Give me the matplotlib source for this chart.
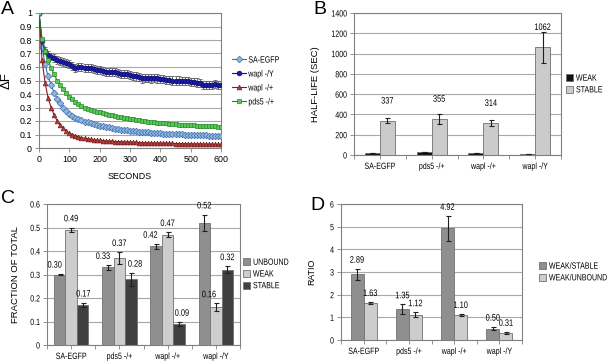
import matplotlib
matplotlib.use("Agg")
import matplotlib.pyplot as plt
import matplotlib.patheffects as pe
from matplotlib.transforms import Affine2D
import numpy as np

plt.rcParams['font.family'] = ['Liberation Sans', 'DejaVu Sans']
plt.rcParams['font.size'] = 6.4

# panel A: recovery curves, one point every 10 s
seconds = list(range(0, 610, 10))
sa_egfp = [1.00, 0.75, 0.62, 0.53, 0.465, 0.41, 0.365, 0.33, 0.30, 0.275, 0.255,
           0.24, 0.225, 0.215, 0.205, 0.195, 0.19, 0.182, 0.176, 0.17, 0.165,
           0.16, 0.156, 0.152, 0.148, 0.144, 0.14, 0.137, 0.134, 0.131, 0.128,
           0.126, 0.124, 0.122, 0.12, 0.118, 0.116, 0.114, 0.112, 0.11, 0.108,
           0.107, 0.106, 0.105, 0.104, 0.103, 0.102, 0.101, 0.10, 0.099, 0.098,
           0.097, 0.096, 0.095, 0.094, 0.093, 0.092, 0.092, 0.091, 0.09, 0.09]
wapl_y = [1.00, 0.79, 0.72, 0.69, 0.675, 0.665, 0.655, 0.645, 0.64, 0.63, 0.62,
          0.61, 0.595, 0.60, 0.60, 0.595, 0.59, 0.59, 0.585, 0.58, 0.575,
          0.57, 0.565, 0.565, 0.56, 0.56, 0.555, 0.55, 0.55, 0.545, 0.54,
          0.535, 0.53, 0.525, 0.515, 0.52, 0.52, 0.515, 0.52, 0.515, 0.51,
          0.51, 0.505, 0.505, 0.50, 0.50, 0.50, 0.495, 0.495, 0.495, 0.49,
          0.49, 0.485, 0.48, 0.47, 0.465, 0.47, 0.47, 0.475, 0.47, 0.47]
wapl_y_err = [0.0, 0.02, 0.025, 0.025, 0.025, 0.03, 0.03, 0.03, 0.03, 0.03, 0.03,
              0.03, 0.03, 0.03, 0.03, 0.03, 0.03, 0.03, 0.03, 0.03, 0.03,
              0.03, 0.03, 0.03, 0.03, 0.03, 0.03, 0.03, 0.03, 0.03, 0.03,
              0.03, 0.03, 0.03, 0.03, 0.03, 0.03, 0.03, 0.03, 0.03, 0.03,
              0.03, 0.03, 0.03, 0.03, 0.03, 0.03, 0.03, 0.03, 0.03, 0.03,
              0.03, 0.03, 0.03, 0.03, 0.03, 0.03, 0.03, 0.03, 0.03, 0.03]
wapl_het = [1.00, 0.65, 0.485, 0.37, 0.30, 0.245, 0.20, 0.17, 0.145, 0.125, 0.11,
            0.10, 0.09, 0.083, 0.077, 0.072, 0.068, 0.064, 0.061, 0.058, 0.056,
            0.054, 0.052, 0.05, 0.049, 0.048, 0.047, 0.046, 0.045, 0.044, 0.043,
            0.042, 0.041, 0.04, 0.04, 0.039, 0.038, 0.038, 0.037, 0.036, 0.036,
            0.035, 0.035, 0.034, 0.034, 0.033, 0.033, 0.032, 0.032, 0.031, 0.031,
            0.03, 0.03, 0.03, 0.029, 0.029, 0.028, 0.028, 0.027, 0.027, 0.026]
pds5_het = [1.00, 0.81, 0.72, 0.65, 0.595, 0.545, 0.50, 0.465, 0.435, 0.405, 0.38,
            0.36, 0.34, 0.325, 0.31, 0.30, 0.29, 0.283, 0.276, 0.27, 0.265,
            0.258, 0.252, 0.247, 0.242, 0.237, 0.232, 0.228, 0.224, 0.22, 0.216,
            0.212, 0.208, 0.205, 0.202, 0.199, 0.196, 0.193, 0.19, 0.188, 0.186,
            0.184, 0.182, 0.18, 0.178, 0.176, 0.174, 0.172, 0.17, 0.169, 0.168,
            0.167, 0.166, 0.165, 0.164, 0.163, 0.162, 0.161, 0.16, 0.158, 0.156]

# panels B-D
lines = ["SA-EGFP", "pds5 -/+", "wapl -/+", "wapl -/Y"]
halflife_weak = [20, 28, 18, 8]
halflife_weak_err = [3, 3, 3, 2]
halflife_stable = [337, 355, 314, 1062]
halflife_stable_err = [25, 45, 30, 155]

frac_unbound = [0.30, 0.33, 0.42, 0.52]
frac_unbound_err = [0.003, 0.01, 0.01, 0.035]
frac_weak = [0.49, 0.37, 0.47, 0.16]
frac_weak_err = [0.01, 0.025, 0.01, 0.017]
frac_stable = [0.17, 0.28, 0.09, 0.32]
frac_stable_err = [0.01, 0.027, 0.008, 0.015]

ratio_weak_stable = [2.89, 1.35, 4.92, 0.50]
ratio_weak_stable_err = [0.25, 0.22, 0.55, 0.08]
ratio_weak_unbound = [1.63, 1.12, 1.10, 0.31]
ratio_weak_unbound_err = [0.04, 0.1, 0.04, 0.04]

W, H = 608, 363
fig = plt.figure(figsize=(W / 100, H / 100), dpi=100)


class Squeeze(pe.AbstractPathEffect):
    """Draw text narrower (the small text in the figure looks condensed)."""

    def __init__(self, sx=0.78, anchor="center"):
        super().__init__()
        self.sx = sx
        self.anchor = anchor

    def draw_path(self, renderer, gc, tpath, affine, rgbFace=None):
        ext = tpath.get_extents(affine)
        cx = {"left": ext.x0, "right": ext.x1}.get(self.anchor, (ext.x0 + ext.x1) / 2)
        t = affine + Affine2D().translate(-cx, 0).scale(self.sx, 1).translate(cx, 0)
        renderer.draw_path(gc, tpath, t, rgbFace)


def squeeze(texts, anchor, sx=0.78):
    for t in texts:
        t.set_path_effects([Squeeze(sx, anchor)])


def px_axes(left, top, right, bottom):
    return fig.add_axes([left / W, 1 - bottom / H, (right - left) / W, (bottom - top) / H])


def style_axes(ax):
    for s in ax.spines.values():
        s.set_color("#808080")
        s.set_linewidth(0.8)
    ax.yaxis.grid(True, color="#a8a8a8", linewidth=0.8)
    ax.set_axisbelow(True)
    ax.tick_params(length=3, width=0.6, color="#808080", pad=2)


def bar_panel(ax, series, ymax, ystep, fmt, label_off, above_err=True, nudges=None):
    n = len(series)
    width = 0.29 if n == 2 else 0.24
    x = np.arange(len(lines))
    for i, (vals, errs, color, name, show) in enumerate(series):
        pos = x + (i - (n - 1) / 2) * width
        ax.bar(pos, vals, width, color=color, edgecolor="#707070", linewidth=0.6,
               label=name, zorder=2)
        ax.errorbar(pos, vals, yerr=errs, fmt="none", ecolor="#202020",
                    elinewidth=0.8, capsize=1.8, capthick=0.8, zorder=3)
        if show:
            dx = nudges[i] if nudges else [0] * len(vals)
            for p, v, e, d in zip(pos, vals, errs, dx):
                top = v + e if above_err else v
                lab = ax.annotate(fmt.format(v), (p, top), xytext=(d, label_off),
                                  textcoords="offset points", ha="center",
                                  va="bottom", fontsize=6.8)
                squeeze([lab], "center")
    ax.set_xlim(-0.5, len(lines) - 0.5)
    ax.set_ylim(0, ymax)
    ax.set_yticks(np.arange(0, ymax + ystep / 2, ystep))
    ax.set_xticks(x)
    ax.set_xticklabels(lines)
    ax.set_xticks(np.arange(-0.5, len(lines)), minor=True)
    ax.tick_params(axis="x", which="major", length=0, pad=4)
    ax.tick_params(axis="x", which="minor", length=3, color="#808080")
    style_axes(ax)
    ax.tick_params(labelsize=6.5)


def panel_legend(ax, anchor_px, **kw):
    opts = dict(loc="center left", bbox_to_anchor=(anchor_px[0] / W, 1 - anchor_px[1] / H),
                bbox_transform=fig.transFigure, frameon=False, fontsize=6.5,
                handlelength=0.8, handleheight=0.8, handletextpad=0.3,
                labelspacing=0.3, borderaxespad=0, borderpad=0)
    opts.update(kw)
    leg = ax.legend(**opts)
    squeeze(leg.get_texts(), "left")
    return leg


# ---- A ----
axA = px_axes(39, 13, 221, 148)
style_axes(axA)
curves = [
    (sa_egfp, None, "SA-EGFP", "D", "#8fb4e0", "#3c6fb0", "#3c6fb0"),
    (wapl_y, wapl_y_err, "wapl -/Y", "o", "#1c1ca8", "#0a0a70", "#101080"),
    (wapl_het, None, "wapl -/+", "^", "#b04040", "#7a1a1a", "#802020"),
    (pds5_het, None, "pds5 -/+", "s", "#58c858", "#2a8a2a", "#208020"),
]
for ys, err, name, mk, fc, ec, lc in curves:
    if err is not None:
        axA.errorbar(seconds, ys, yerr=err, fmt="none", ecolor="#606060",
                     elinewidth=0.6, capsize=1.5, capthick=0.6, zorder=2)
    axA.plot(seconds, ys, color=lc, linewidth=0.8, marker=mk, markersize=3.4,
             markerfacecolor=fc, markeredgecolor=ec, markeredgewidth=0.5,
             label=name, zorder=3)
axA.set_xlim(0, 600)
axA.set_ylim(0, 1)
axA.set_xticks(range(0, 601, 100))
axA.set_yticks(np.arange(0, 1.01, 0.1))
axA.set_yticklabels(["0"] + ["%.1f" % v for v in np.arange(0.1, 0.95, 0.1)] + ["1"])
axA.tick_params(axis="x", direction="out")
axA.set_xlabel("SECONDS", labelpad=6)
axA.set_ylabel("ΔF", fontsize=9.5)
axA.yaxis.set_label_coords(-0.145, 0.5)
panel_legend(axA, (232, 81), handlelength=1.6, handleheight=0.7,
             handletextpad=0.2, labelspacing=0.55)

# ---- B ----
axB = px_axes(354, 13, 561, 155)
bar_panel(axB, [
    (halflife_weak, halflife_weak_err, "#111111", "WEAK", False),
    (halflife_stable, halflife_stable_err, "#cbcbcb", "STABLE", True),
], 1400, 200, "{:d}", 11, above_err=False)
axB.set_ylabel("HALF-LIFE (SEC)", fontsize=6.8, labelpad=5)
panel_legend(axB, (566, 84))

# ---- C ----
axC = px_axes(47, 204, 240, 345)
bar_panel(axC, [
    (frac_unbound, frac_unbound_err, "#8f8f8f", "UNBOUND", True),
    (frac_weak, frac_weak_err, "#cdcdcd", "WEAK", True),
    (frac_stable, frac_stable_err, "#404040", "STABLE", True),
], 0.6, 0.1, "{:.2f}", 3,
    nudges=[[-3.5, -3.5, -4, 0], [0, 0, 0, -5], [0.5, 3, 2, 0]])
axC.set_yticklabels(["0"] + ["%.1f" % v for v in np.arange(0.1, 0.65, 0.1)])
axC.set_ylabel("FRACTION OF TOTAL", fontsize=6.8, labelpad=5)
panel_legend(axC, (243, 274))

# ---- D ----
axD = px_axes(341, 204, 522, 340)
bar_panel(axD, [
    (ratio_weak_stable, ratio_weak_stable_err, "#8f8f8f", "WEAK/STABLE", True),
    (ratio_weak_unbound, ratio_weak_unbound_err, "#cdcdcd", "WEAK/UNBOUND", True),
], 6, 1, "{:.2f}", 3)
axD.set_ylabel("RATIO", fontsize=6.4, labelpad=9)
panel_legend(axD, (539, 272))

# squeeze tick labels of the bar panels
for ax in (axB, axC, axD):
    squeeze(ax.get_xticklabels(), "center")
    squeeze(ax.get_yticklabels(), "right")

# panel letters
for letter, xp, yp in [("A", 1, 1), ("B", 313, 1), ("C", 1, 190), ("D", 310, 197)]:
    fig.text(xp / W, 1 - yp / H, letter, fontsize=14, ha="left", va="top")

fig.savefig("out.png", dpi=100)
